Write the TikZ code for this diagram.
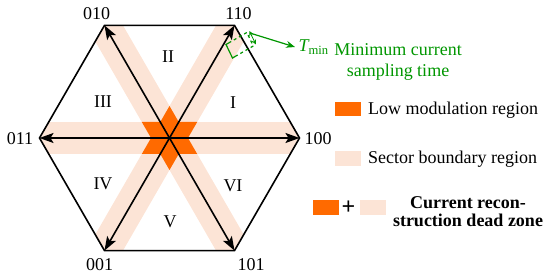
\documentclass[tikz,border=0pt]{standalone}
\usepackage{fontspec}
\setmainfont{Liberation Serif}
\usetikzlibrary{arrows.meta,calc}
\definecolor{lowmod}{RGB}{255,106,0}
\definecolor{boundary}{RGB}{252,228,214}
\definecolor{tgreen}{RGB}{0,150,0}

\begin{document}
\begin{tikzpicture}[x=1pt,y=-1pt,
  lbl/.style={font=\fontsize{18}{21}\selectfont},
  vec/.style={line width=1.6pt,-{Stealth[length=14pt,width=10pt,inset=3pt]}},
  dim/.style={tgreen,line width=1.2pt}]
\useasboundingbox (0,0) rectangle (550,278);
\coordinate (o) at (169.5,138);
\coordinate (v100) at (299.5,138);
\coordinate (v110) at (234.5,25.4);
\coordinate (v010) at (104.5,25.4);
\coordinate (v011) at (39.5,138);
\coordinate (v001) at (104.5,250.6);
\coordinate (v101) at (234.5,250.6);
% sector boundary bands
\begin{scope}
  \clip (v100) -- (v110) -- (v010) -- (v011) -- (v001) -- (v101) -- cycle;
  \draw[boundary,line width=32pt] (v011) -- (v100);
  \draw[boundary,line width=32pt] (v010) -- (v101);
  \draw[boundary,line width=32pt] (v110) -- (v001);
\end{scope}
% low modulation star
\begin{scope}[shift={(o)}]
  \fill[lowmod] (90:32) -- (210:32) -- (330:32) -- cycle;
  \fill[lowmod] (30:32) -- (150:32) -- (270:32) -- cycle;
\end{scope}
\foreach \v in {v100,v110,v010,v011,v001,v101}
  \draw[vec] (o) -- (\v);
\draw[line width=1.6pt] (v100) -- (v110) -- (v010) -- (v011) -- (v001) -- (v101) -- cycle;
% vertex labels
\node[lbl] (l010) at (96.5,14) {010};
\node[lbl] (l110) at (238.5,14) {110};
\node[lbl] (l011) at (20,139) {011};
\node[lbl] (l100) at (318,139) {100};
\node[lbl] (l001) at (99.5,265) {001};
\node[lbl] (l101) at (251,265) {101};
% sectors
\node[lbl] (s1) at (233,103) {I};
\node[lbl] (s2) at (168,57) {II};
\node[lbl] (s3) at (103,102) {III};
\node[lbl] (s4) at (103,184) {IV};
\node[lbl] (s5) at (170,222) {V};
\node[lbl] (s6) at (233,186) {VI};
% minimum sampling time
\coordinate (t1) at (226,44.5);
\coordinate (t2) at (232.5,58);
\coordinate (t3) at ($(t2)+(20.8,-12)$);
\coordinate (t4) at ($(t1)+(20.8,-12)$);
\draw[dim,dashed] ($(t1)!3pt!(t4)$) -- (t4) -- (t3) -- ($(t2)!3pt!(t3)$);
\draw[dim] ($(t1)!3pt!(t4)$) -- (t1) -- (t2) -- ($(t2)!3pt!(t3)$);
\draw[tgreen,line width=0.8pt,{Stealth[open,length=5pt,width=5pt]}-{Stealth[open,length=5pt,width=5pt]}]
  ($(t4)+(2.6,-1.5)$) -- ($(t3)+(2.6,-1.5)$);
\node[lbl,tgreen,anchor=west] (tmin) at (295,47) {{\itshape T}\textsubscript{min}};
\draw[dim,-{Stealth[length=9pt,width=7pt]}] ($(t4)+(3,0.5)$) -- (tmin.west);
\node[lbl,tgreen,align=center] (tdesc) at (398,62) {Minimum current\\sampling time};
% legend
\fill[lowmod] (334.5,102) rectangle (360.5,116.5);
\node[lbl,anchor=base west,inner sep=0pt] (lowtxt) at (368,115) {Low modulation region};
\fill[boundary] (334.5,151) rectangle (360.5,166);
\node[lbl,anchor=base west,inner sep=0pt] (bndtxt) at (368,164) {Sector boundary region};
\fill[lowmod] (312.5,200) rectangle (338.5,215.5);
\node[font=\fontsize{24}{24}\selectfont\bfseries] (plus) at (348.5,208) {+};
\fill[boundary] (359.5,200) rectangle (386,215.5);
\node[font=\fontsize{18}{18}\selectfont\bfseries,align=center] (dead) at (468,212)
  {Current recon-\\struction dead zone};
\end{tikzpicture}
\end{document}
